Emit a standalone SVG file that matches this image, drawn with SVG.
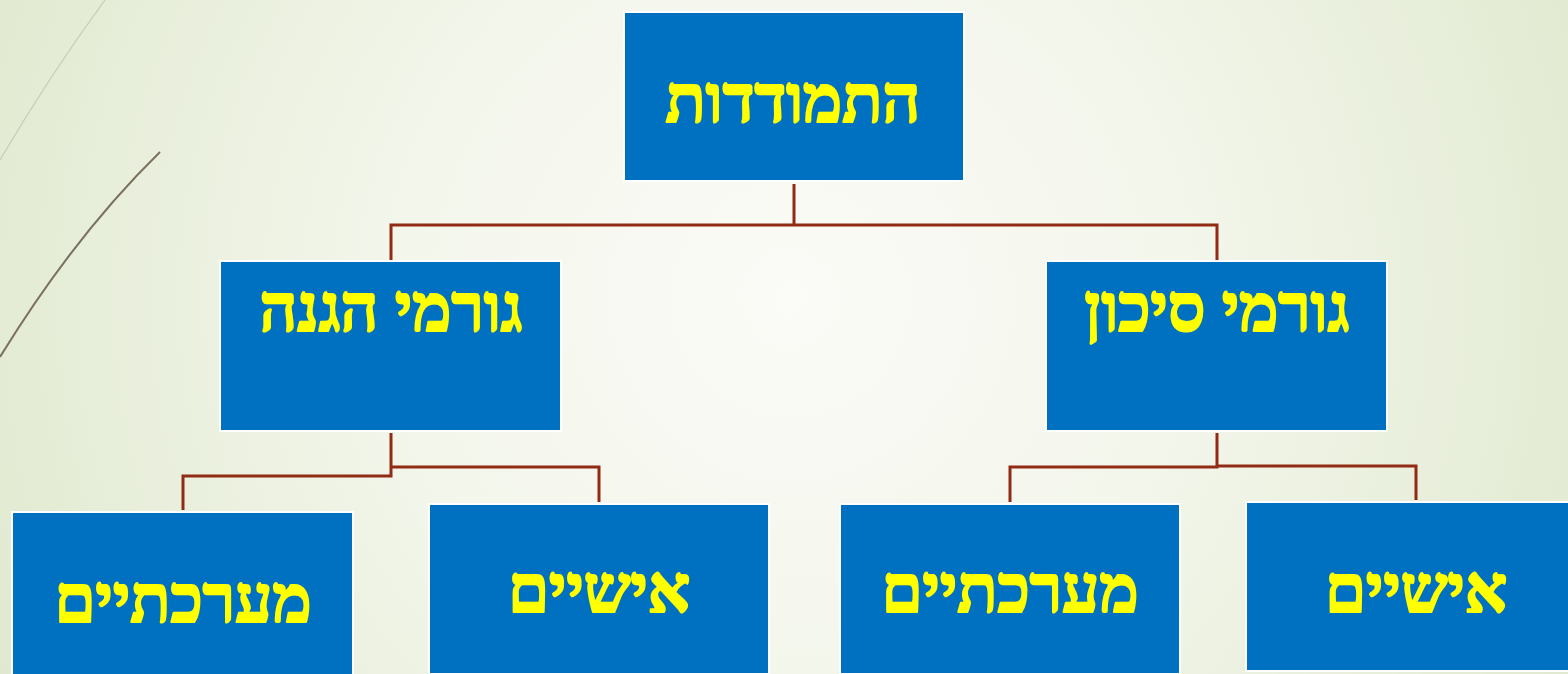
<svg xmlns="http://www.w3.org/2000/svg" width="1568" height="674" viewBox="0 0 1568 674">
  <defs>
    <radialGradient id="bg" cx="790" cy="300" r="880" gradientUnits="userSpaceOnUse">
      <stop offset="0" stop-color="#FBFBF7"/>
      <stop offset="0.45" stop-color="#F3F6EB"/>
      <stop offset="1" stop-color="#E0E9CF"/>
    </radialGradient>
    <style>
      .box { fill: #0070C0; stroke: #FFFFFF; stroke-width: 2; }
      .lbl { font-family: "Liberation Serif", "Times New Roman", "DejaVu Sans", serif; font-weight: bold; font-size: 66px; fill: #FFFF00; stroke: #FFFF00; stroke-width: 2.2; stroke-linejoin: round; text-anchor: middle; direction: rtl; }
      .conn { fill: none; stroke: #922B14; stroke-width: 3; stroke-linejoin: miter; }
    </style>
  </defs>
  <rect x="0" y="0" width="1568" height="674" fill="url(#bg)"/>
  <g id="decor" fill="none">
    <path d="M105,0 Q50,75 0,160" stroke="#C9C9BC" stroke-width="1.2"/>
    <path d="M160,152 Q75,235 0,357" stroke="#7A705E" stroke-width="2"/>
  </g>
  <g id="connectors" class="conn">
    <path d="M794,184 V225 M391,261 V225 H1217 V261"/>
    <path d="M391,433 V476 H183 V510 M391,467 H599 V502"/>
    <path d="M1217,433 V467 H1010 V502 M1217,466 H1416 V500"/>
  </g>
  <g id="node-top">
    <rect class="box" x="624" y="12" width="340" height="169"/>
    <text class="lbl" x="793" y="122">התמודדות</text>
  </g>
  <g id="node-protect">
    <rect class="box" x="220" y="261" width="341" height="170"/>
    <text class="lbl" x="391" y="331">גורמי הגנה</text>
  </g>
  <g id="node-risk">
    <rect class="box" x="1046" y="261" width="341" height="170"/>
    <text class="lbl" x="1217" y="331">גורמי סיכון</text>
  </g>
  <g id="node-protect-systemic">
    <rect class="box" x="12" y="512" width="341" height="170"/>
    <text class="lbl" x="183" y="622">מערכתיים</text>
  </g>
  <g id="node-protect-personal">
    <rect class="box" x="429" y="504" width="340" height="170"/>
    <text class="lbl" x="599" y="612">אישיים</text>
  </g>
  <g id="node-risk-systemic">
    <rect class="box" x="840" y="504" width="340" height="170"/>
    <text class="lbl" x="1010" y="612">מערכתיים</text>
  </g>
  <g id="node-risk-personal">
    <rect class="box" x="1246" y="502" width="341" height="169"/>
    <text class="lbl" x="1416" y="612">אישיים</text>
  </g>
</svg>
